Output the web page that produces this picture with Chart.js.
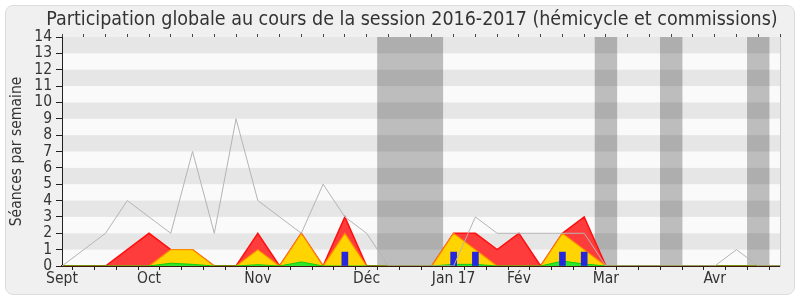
<!DOCTYPE html>
<html><head><meta charset="utf-8">
<script src="https://cdn.jsdelivr.net/npm/chart.js@4"></script>
<style>
html,body{margin:0;padding:0;background:#fff;}
#wrap{position:relative;width:800px;height:300px;}
#bg{position:absolute;left:5px;top:5px;width:788px;height:288px;border:1px solid #dcdcdc;border-radius:8px;background:#f0f0f0;}
canvas{position:absolute;left:0;top:0;}
</style></head><body>
<div id="wrap"><div id="bg"></div><canvas id="c" width="800" height="300"></canvas></div>
<script>
// ---- data (one point per week) ----
const weekLabels = ['Sept','','','','Oct','','','','','Nov','','','','','Déc','','','','Jan 17','','','Fév','','','','Mar','','','','','Avr','','',''];
const presences   = [0,0,0,1,2,1,1,0,0,2,0,2,0,3,0,0,0,0,2,2,1,2,0,2,3,0,0,0,0,0,0,0,0,0];
const hemicycle   = [0,0,0,0,0,1,1,0,0,1,0,2,0,2,0,0,0,0,2,1,0,0,0,2,1,0,0,0,0,0,0,0,0,0];
const interventions = [0,0,0,0,0,0.17,0.1,0,0,0.08,0,0.25,0,0,0,0,0,0,0.1,0.1,0,0,0,0.3,0.12,0,0,0,0,0,0,0,0,0];
const questions   = [null,null,null,null,null,null,null,null,null,null,null,null,null,0.85,null,null,null,null,0.85,0.85,null,null,null,0.85,0.85,null,null,null,null,null,null,null,null,null];
const mediane     = [0,1,2,4,3,2,7,2,9,4,3,2,5,3,2,0,0,0,0,3,2,2,2,2,2,0,0,0,0,0,0,1,0,0];
const vacances    = [null,null,null,null,null,null,null,null,null,null,null,null,null,null,null,14,14,14,null,null,null,null,null,null,null,14,null,null,14,null,null,null,14,null];
const Y_MIN = 0, Y_MAX = 14;
const titleText = 'Participation globale au cours de la session 2016-2017 (hémicycle et commissions)';
const yTitle = 'Séances par semaine';

const FONT = "'DejaVu Sans Condensed', 'DejaVu Sans', sans-serif";

const bgPlugin = {
  id: 'bgPlugin',
  beforeDraw(chart) {
    const {ctx, chartArea: a} = chart;
    ctx.save();
    ctx.fillStyle = '#fafafa';
    ctx.fillRect(a.left, a.top, a.right - a.left, a.bottom - a.top);
    ctx.restore();
  },
  afterDatasetDraw(chart, args) {
    if (args.index !== 0) return;
    const {ctx, chartArea: a, scales: {y}} = chart;
    ctx.save();
    ctx.fillStyle = 'rgba(0,0,0,0.08)';
    for (let v = Y_MIN + 1; v < Y_MAX; v += 2) {
      const t = y.getPixelForValue(v + 1), b = y.getPixelForValue(v);
      ctx.fillRect(a.left, t, a.right - a.left, b - t);
    }
    ctx.restore();
  }
};

new Chart(document.getElementById('c'), {
  type: 'line',
  data: {
    labels: weekLabels,
    datasets: [
      {type:'bar', label:'Vacances', data: vacances, backgroundColor:'#bdbdbd', borderWidth:0,
       barPercentage:1, categoryPercentage:1, grouped:false, order:10},
      {label:'Présences', data: presences, borderColor:'#ff1010', borderWidth:1.5,
       backgroundColor:'#ff3c3c', fill:'origin', pointRadius:0, tension:0, order:6},
      {label:'Hémicycle', data: hemicycle, borderColor:'#ff8a00', borderWidth:1.2,
       backgroundColor:'#ffd400', fill:'origin', pointRadius:0, tension:0, order:5},
      {label:'Interventions', data: interventions, borderColor:'#11cc11', borderWidth:1,
       backgroundColor:'#2ee62e', fill:'origin', pointRadius:0, tension:0, order:4},
      {type:'bar', label:'Questions', data: questions, backgroundColor:'#2626dc', borderWidth:0,
       barThickness:6, grouped:false, order:3},
      {label:'Médiane', data: mediane, borderColor:'#b4b4b4', borderWidth:1,
       fill:false, pointRadius:0, tension:0, order:2}
    ]
  },
  options: {
    responsive:false, animation:false,
    layout:{padding:{left:24, right:0, top:0, bottom:0}},
    plugins:{
      legend:{display:false}, tooltip:{enabled:false},
      title:{display:true, text:titleText, color:'#333', font:{family:FONT, size:19.5, weight:'normal'}, padding:{top:8, bottom:0}}
    },
    scales:{
      x:{type:'category', offset:false, position:'bottom', z:1,
         grid:{drawOnChartArea:false, drawTicks:true, tickLength:4, color:'#222'},
         border:{display:true, color:'#3d1a0e', width:2},
         ticks:{autoSkip:false, maxRotation:0, minRotation:0, padding:0, color:'#333', font:{family:FONT, size:15.5}},
         afterFit(s){ s.height = 34; }},
      x2:{type:'category', labels: weekLabels, offset:false, position:'top',
         grid:{drawOnChartArea:false, drawTicks:true, tickLength:3, color:'#444'},
         border:{display:false}, ticks:{display:false},
         afterFit(s){ s.height = 5.6; }},
      y:{min:Y_MIN, max:Y_MAX, position:'left', z:1,
         ticks:{stepSize:1, autoSkip:false, padding:4, color:'#333', font:{family:FONT, size:15.5}},
         grid:{drawOnChartArea:false, tickLength:6, color:'#222'},
         border:{display:true, color:'#222', width:1},
         title:{display:true, text:yTitle, color:'#333', font:{family:FONT, size:15.5}, padding:{top:-16.3, bottom:0}},
         afterFit(s){ s.width = 38; }},
      yR:{min:Y_MIN, max:Y_MAX, position:'right', display:true,
         grid:{display:false}, ticks:{display:false},
         border:{display:true, color:'#c8c8c8', width:1},
         afterFit(s){ s.width = 20; }}
    }
  },
  plugins:[bgPlugin]
});
</script>
</body></html>
